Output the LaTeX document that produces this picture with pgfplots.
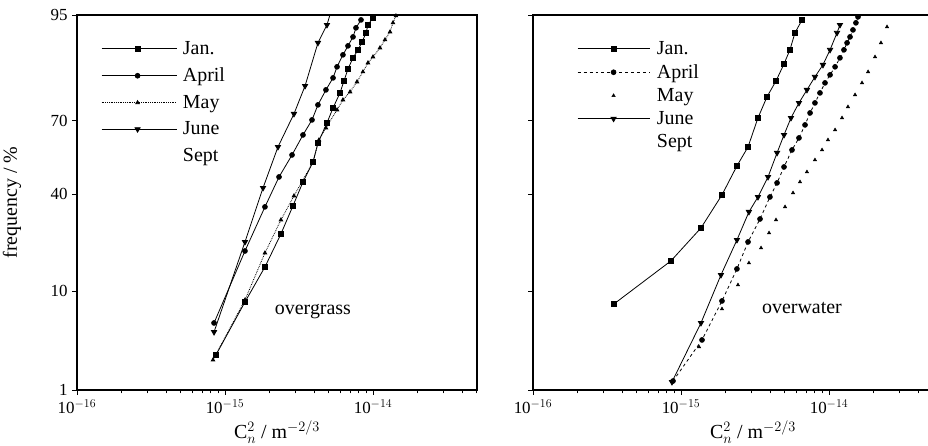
\documentclass[border=0pt]{standalone}
\usepackage{fontspec}
\setmainfont{Liberation Serif}
\usepackage{pgfplots}
\pgfplotsset{compat=1.18}
\usepackage{pgfplotstable}

% columns: lgC = log10(C_n^2 / m^-2/3), z = probit (normal quantile) of frequency
\pgfplotstableread{
lgC z
-15.061 -1.955
-14.865 -1.394
-14.730 -1.023
-14.622 -0.673
-14.541 -0.377
-14.473 -0.123
-14.405 0.089
-14.372 0.290
-14.311 0.502
-14.270 0.661
-14.223 0.820
-14.196 0.947
-14.169 1.074
-14.135 1.191
-14.101 1.276
-14.074 1.360
-14.047 1.456
-14.034 1.540
-14.000 1.615
}\gJan
\pgfplotstableread{
lgC z
-15.074 -1.616
-14.865 -0.854
-14.730 -0.387
-14.635 -0.070
-14.547 0.163
-14.473 0.375
-14.412 0.534
-14.372 0.693
-14.318 0.852
-14.270 0.979
-14.243 1.096
-14.203 1.223
-14.169 1.318
-14.135 1.413
-14.115 1.509
-14.081 1.593
}\gApr
\pgfplotstableread{
lgC z
-15.081 -2.008
-14.865 -1.373
-14.730 -0.875
-14.622 -0.525
-14.534 -0.271
-14.405 0.089
-14.365 0.322
-14.318 0.449
-14.243 0.640
-14.203 0.746
-14.155 0.831
-14.108 0.937
-14.068 1.043
-14.034 1.138
-14.000 1.201
-13.953 1.297
-13.919 1.382
-13.885 1.466
-13.865 1.562
-13.845 1.636
}\gMay
\pgfplotstableread{
lgC z
-15.074 -1.712
-14.865 -0.758
-14.743 -0.186
-14.642 0.248
-14.534 0.598
-14.459 0.894
-14.372 1.350
-14.311 1.540
-14.291 1.646
}\gJun
\pgfplotstableread{
lgC z
-15.453 -1.415
-15.068 -0.959
-14.865 -0.610
-14.723 -0.260
-14.622 0.047
-14.547 0.248
-14.480 0.555
-14.419 0.778
-14.358 0.947
-14.304 1.127
-14.264 1.276
-14.230 1.456
-14.182 1.593
}\wJan
\pgfplotstableread{
lgC z
-15.054 -2.231
-14.858 -1.796
-14.723 -1.383
-14.622 -1.044
-14.547 -0.758
-14.466 -0.515
-14.399 -0.282
-14.351 -0.133
-14.304 0.036
-14.250 0.216
-14.203 0.343
-14.162 0.481
-14.128 0.608
-14.095 0.714
-14.061 0.820
-14.027 0.926
-13.993 1.011
-13.959 1.096
-13.926 1.191
-13.899 1.276
-13.878 1.350
-13.858 1.413
-13.838 1.487
-13.818 1.562
-13.804 1.625
}\wApr
\pgfplotstableread{
lgC z
-14.878 -1.870
-14.723 -1.468
-14.615 -1.214
-14.541 -0.981
-14.459 -0.822
-14.405 -0.663
-14.358 -0.525
-14.297 -0.387
-14.243 -0.239
-14.196 -0.123
-14.149 -0.017
-14.095 0.110
-14.047 0.216
-14.007 0.322
-13.959 0.428
-13.912 0.555
-13.872 0.672
-13.824 0.799
-13.777 0.926
-13.736 1.043
-13.689 1.201
-13.649 1.350
-13.608 1.519
-13.588 1.646
}\wMay
\pgfplotstableread{
lgC z
-15.061 -2.241
-14.865 -1.616
-14.730 -1.108
-14.622 -0.737
-14.541 -0.440
-14.480 -0.282
-14.412 -0.070
-14.351 0.185
-14.304 0.375
-14.257 0.555
-14.203 0.714
-14.149 0.852
-14.095 0.990
-14.041 1.117
-13.993 1.276
-13.946 1.456
-13.926 1.540
}\wJun

\begin{document}
\begin{tikzpicture}
\path[use as bounding box] (0bp,0bp) rectangle (928bp,446bp);
\begin{axis}[
    scale only axis, width=400bp, height=375bp, anchor=south west,
    at={(77bp,56bp)},
    xmode=log, xmin=1e-16, xmax=5.04e-14,
    ymin=-2.326, ymax=1.645,
    xtick={1e-16,1e-15,1e-14},
    xticklabels={10$^{-16}$,10$^{-15}$,10$^{-14}$},
    minor xtick={2e-16,3e-16,4e-16,5e-16,6e-16,7e-16,8e-16,9e-16,2e-15,3e-15,4e-15,5e-15,6e-15,7e-15,8e-15,9e-15,2e-14,3e-14,4e-14,5e-14},
    ytick={-2.326,-1.2816,-0.2533,0.5244,1.645},
    yticklabels={1,10,40,70,95},
    xtick pos=bottom, ytick pos=left,
    tick align=outside,
    major tick length=5bp, minor tick length=3.5bp,
    tick style={black, line width=0.9bp},
    axis line style={line width=1.6bp},
    ticklabel style={font=\fontsize{17}{19}\selectfont},
    xticklabel style={yshift=-1bp},
    yticklabel style={xshift=-1bp},
    label style={font=\fontsize{20}{23}\selectfont},
    xlabel={C$^{2}_{n}$ / m$^{-2/3}$},
    ylabel={frequency / \%},
    ylabel style={at={(axis description cs:-0.1625,0.5)}, anchor=center},
    xlabel style={at={(axis description cs:0.5,-0.112)}, anchor=center},
    legend cell align=left,
    legend style={draw=none, fill=none, anchor=north west, inner sep=0pt,
      at={(axis description cs:0.06,0.935)},
      row sep=8bp, column sep=4bp, font=\fontsize{20}{23}\selectfont},
    legend image code/.code={\draw[mark repeat=2,mark phase=2,#1] plot coordinates {(0bp,0bp) (36bp,0bp) (75bp,0bp)};},
  ]
\addplot[black, line width=0.8bp, solid, mark=square*, mark size=2.6bp, mark options={solid, fill=black}] table[x expr={10^(\thisrow{lgC})}, y=z] {\gJan};
\addlegendentry{Jan.}
\addplot[black, line width=0.8bp, solid, mark=*, mark size=2.4bp, mark options={solid, fill=black}] table[x expr={10^(\thisrow{lgC})}, y=z] {\gApr};
\addlegendentry{April}
\addplot[black, line width=0.8bp, densely dotted, mark=triangle*, mark size=2bp, mark options={solid, fill=black}] table[x expr={10^(\thisrow{lgC})}, y=z] {\gMay};
\addlegendentry{May}
\addplot[black, line width=0.8bp, solid, mark=triangle*, mark size=3bp, mark options={solid, fill=black, rotate=180}] table[x expr={10^(\thisrow{lgC})}, y=z] {\gJun};
\addlegendentry{June}
\addlegendimage{empty legend}
\addlegendentry{Sept}
\node[font=\fontsize{20}{23}\selectfont] at (rel axis cs:0.59,0.208) {overgrass};
\end{axis}
\begin{axis}[
    scale only axis, width=400bp, height=375bp, anchor=south west,
    at={(533bp,56bp)},
    xmode=log, xmin=1e-16, xmax=5.04e-14,
    ymin=-2.326, ymax=1.645,
    xtick={1e-16,1e-15,1e-14},
    xticklabels={10$^{-16}$,10$^{-15}$,10$^{-14}$},
    minor xtick={2e-16,3e-16,4e-16,5e-16,6e-16,7e-16,8e-16,9e-16,2e-15,3e-15,4e-15,5e-15,6e-15,7e-15,8e-15,9e-15,2e-14,3e-14,4e-14,5e-14},
    ytick={-2.326,-1.2816,-0.2533,0.5244,1.645},
    yticklabels={},
    xtick pos=bottom, ytick pos=left,
    tick align=outside,
    major tick length=5bp, minor tick length=3.5bp,
    tick style={black, line width=0.9bp},
    axis line style={line width=1.6bp},
    ticklabel style={font=\fontsize{17}{19}\selectfont},
    xticklabel style={yshift=-1bp},
    label style={font=\fontsize{20}{23}\selectfont},
    xlabel={C$^{2}_{n}$ / m$^{-2/3}$},
    xlabel style={at={(axis description cs:0.55,-0.112)}, anchor=center},
    legend cell align=left,
    legend style={draw=none, fill=none, anchor=north west, inner sep=0pt,
      at={(axis description cs:0.11,0.935)},
      row sep=4.5bp, column sep=5bp, font=\fontsize{20}{23}\selectfont},
    legend image code/.code={\draw[mark repeat=2,mark phase=2,#1] plot coordinates {(0bp,0bp) (36bp,0bp) (72bp,0bp)};},
  ]
\addplot[black, line width=0.8bp, solid, mark=square*, mark size=2.6bp, mark options={solid, fill=black}] table[x expr={10^(\thisrow{lgC})}, y=z] {\wJan};
\addlegendentry{Jan.}
\addplot[black, line width=0.8bp, dashed, mark=*, mark size=2.4bp, mark options={solid, fill=black}] table[x expr={10^(\thisrow{lgC})}, y=z] {\wApr};
\addlegendentry{April}
\addplot[black, only marks, mark=triangle*, mark size=2bp, mark options={solid, fill=black}] table[x expr={10^(\thisrow{lgC})}, y=z] {\wMay};
\addlegendentry{May}
\addplot[black, line width=0.8bp, solid, mark=triangle*, mark size=3bp, mark options={solid, fill=black, rotate=180}] table[x expr={10^(\thisrow{lgC})}, y=z] {\wJun};
\addlegendentry{June}
\addlegendimage{empty legend}
\addlegendentry{Sept}
\node[font=\fontsize{20}{23}\selectfont] at (rel axis cs:0.6725,0.219) {overwater};
\end{axis}
\end{tikzpicture}
\end{document}
